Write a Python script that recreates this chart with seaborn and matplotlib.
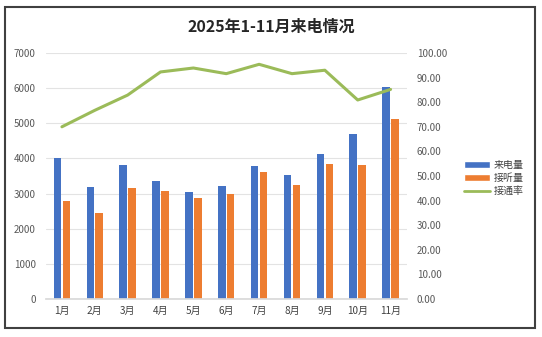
import numpy as np
import pandas as pd
import matplotlib
matplotlib.use("Agg")
import matplotlib.pyplot as plt
import seaborn as sns
from matplotlib.patches import Rectangle, Patch
from matplotlib.lines import Line2D

months = ["1月", "2月", "3月", "4月", "5月", "6月", "7月", "8月", "9月", "10月", "11月"]
calls_in = [4020, 3200, 3810, 3360, 3050, 3220, 3790, 3530, 4130, 4690, 6020]
answered = [2800, 2450, 3160, 3080, 2880, 2990, 3620, 3240, 3840, 3810, 5120]
rate = [70.0, 76.7, 82.9, 92.3, 93.9, 91.6, 95.4, 91.6, 93.0, 80.9, 85.2]
series_names = ["来电量", "接听量", "接通率"]
title = "2025年1-11月来电情况"

sns.set_theme(style="white")
plt.rcParams['font.family'] = ['Noto Sans CJK SC', 'DejaVu Sans']

c_blue, c_orange, c_green = "#4472C4", "#ED7D31", "#9BBB59"

df = pd.DataFrame({
    "month": months * 2,
    "value": calls_in + answered,
    "series": [series_names[0]] * len(months) + [series_names[1]] * len(months),
})

fig = plt.figure(figsize=(5.42, 3.37), dpi=100)
ax = fig.add_axes([45.5 / 542, 1 - 299 / 337, (407 - 45.5) / 542, (299 - 53) / 337])

sns.barplot(data=df, x="month", y="value", hue="series", order=months,
            hue_order=series_names[:2], palette=[c_blue, c_orange],
            width=0.54, gap=0.15, ax=ax, legend=False, saturation=1,
            edgecolor="none")

ax.set_ylim(0, 7000)
ax.set_xlim(-0.5, len(months) - 0.5)
ax.set_yticks(np.arange(0, 7001, 1000))
ax.yaxis.grid(True, color="#E3E3E3", linewidth=0.8)
ax.set_axisbelow(True)
for s in ["top", "right", "left"]:
    ax.spines[s].set_visible(False)
ax.spines["bottom"].set_color("#D9D9D9")
ax.set_xlabel("")
ax.set_ylabel("")
ax.tick_params(axis="y", labelsize=7, colors="#595959", length=0, pad=7)
ax.tick_params(axis="x", labelsize=7.2, colors="#404040", length=0, pad=5)

ax2 = ax.twinx()
sns.lineplot(x=np.arange(len(months)), y=rate, ax=ax2, color=c_green, linewidth=2.2)
ax2.set_ylim(0, 100)
ax2.set_yticks(np.arange(0, 101, 10))
ax2.set_yticklabels([f"{v:.2f}" for v in np.arange(0, 101, 10)])
for s in ["top", "right", "left", "bottom"]:
    ax2.spines[s].set_visible(False)
ax2.tick_params(axis="y", labelsize=7, colors="#595959", length=0, pad=7)
ax2.set_xlim(-0.5, len(months) - 0.5)

handles = [Patch(facecolor=c_blue), Patch(facecolor=c_orange),
           Line2D([0], [0], color=c_green, linewidth=2)]
fig.legend(handles, series_names, loc="center left", bbox_to_anchor=(455 / 542, 1 - 178 / 337),
           frameon=False, fontsize=7.2, handlelength=2.6, handleheight=0.6,
           labelspacing=0.3, handletextpad=0.4, labelcolor="#404040")

fig.text(271 / 542, 1 - 27 / 337, title, ha="center", va="center",
         fontsize=11.5, fontweight="bold", color="#262626")

fig.patches.append(Rectangle((5 / 542, 1 - 328 / 337), 530 / 542, 321 / 337,
                             transform=fig.transFigure, fill=False,
                             edgecolor="#404040", linewidth=1.5))

fig.savefig("out.png", dpi=100)
